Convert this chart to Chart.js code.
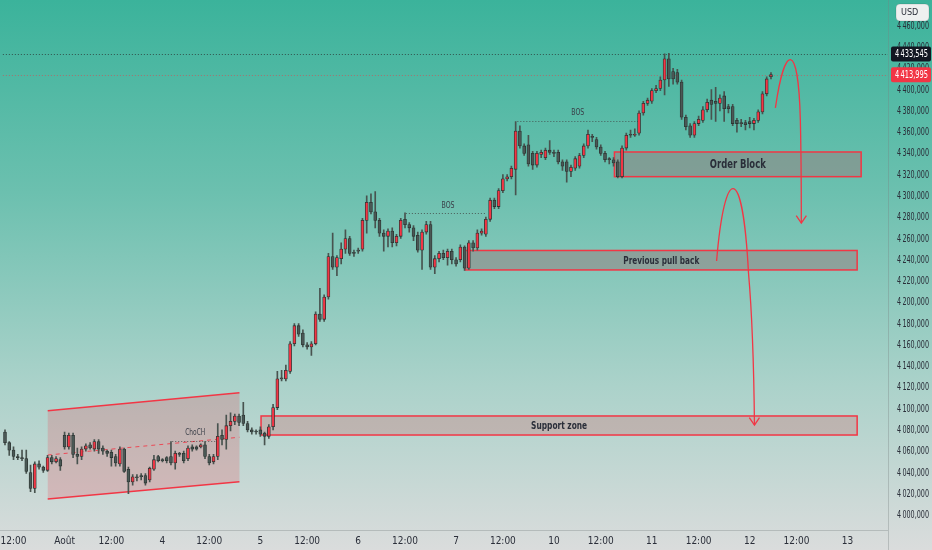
<!DOCTYPE html>
<html><head><meta charset="utf-8">
<script src="https://cdn.jsdelivr.net/npm/chart.js@4.4.1/dist/chart.umd.min.js"></script>
<style>html,body{margin:0;padding:0;overflow:hidden;background:#dcdddd}#wrap{width:932px;height:550px;position:relative}</style>
</head><body>
<div id="wrap"><canvas id="c"></canvas></div>
<script>
// ---- DATA ----
const openP = [4078,4068,4061,4055,4054,4053,4040,4025,4048,4045,
4042,4054,4050,4052,4075,4064,4075,4057,4055,4062,
4066,4062,4069,4063,4060,4059,4055,4048,4062,4043,
4031,4036,4037,4037,4033,4043,4055,4052,4054,4055,
4049,4058,4058,4053,4064,4064,4064,4066,4055,4050,
4055,4075,4071,4084,4088,4093,4094,4086,4080,4079,
4080,4077,4074,4083,4101,4129,4128,4135,4161,4178,
4171,4160,4158,4161,4189,4184,4205,4243,4233,4241,
4250,4260,4247,4249,4250,4277,4294,4285,4277,4265,
4262,4267,4256,4262,4278,4273,4270,4263,4249,4266,
4273,4233,4241,4246,4242,4248,4240,4240,4252,4232,
4256,4251,4265,4264,4278,4296,4290,4305,4316,4318,
4325,4361,4347,4348,4340,4329,4339,4336,4343,4341,
4341,4332,4332,4323,4326,4328,4338,4347,4356,4353,
4346,4340,4335,4334,4332,4318,4345,4358,4357,4359,
4378,4387,4389,4399,4401,4409,4429,4417,4416,4407,
4374,4366,4357,4368,4371,4381,4390,4389,4387,4394,
4384,4384,4371,4369,4369,4370,4368,4371,4379,4396,
4412];
const closeP = [4068,4061,4055,4054,4053,4041,4025,4048,4045,4042,
4054,4050,4053,4046,4064,4075,4057,4055,4062,4065,
4063,4069,4062,4060,4058,4054,4049,4062,4041,4031,
4036,4035,4036,4030,4044,4052,4051,4051,4051,4049,
4058,4057,4051,4063,4062,4062,4066,4055,4049,4055,
4074,4071,4084,4088,4093,4087,4086,4080,4078,4078,
4076,4074,4083,4101,4128,4128,4136,4161,4178,4170,
4160,4158,4161,4189,4184,4205,4243,4233,4242,4250,
4260,4246,4246,4248,4277,4294,4285,4277,4265,4262,
4267,4256,4262,4277,4273,4270,4262,4249,4266,4273,
4233,4241,4246,4242,4248,4240,4236,4252,4232,4256,
4251,4265,4267,4278,4296,4290,4305,4316,4318,4326,
4361,4347,4340,4330,4329,4340,4341,4343,4341,4340,
4332,4328,4323,4327,4335,4338,4347,4358,4355,4346,
4340,4334,4334,4331,4318,4345,4357,4357,4358,4378,
4387,4390,4399,4401,4409,4429,4410,4410,4407,4374,
4365,4357,4368,4372,4381,4388,4386,4387,4392,4382,
4382,4368,4368,4368,4367,4368,4371,4379,4396,4410,
4414];
const highP = [4080,4069,4064,4057,4061,4061,4047,4050,4051,4046,
4056,4056,4055,4054,4078,4077,4077,4063,4064,4067,
4068,4071,4071,4065,4061,4061,4057,4064,4063,4045,
4038,4038,4039,4039,4045,4056,4056,4053,4055,4069,
4060,4059,4060,4065,4066,4065,4067,4069,4057,4057,
4086,4080,4094,4096,4095,4095,4106,4088,4082,4080,
4083,4078,4085,4104,4135,4136,4141,4163,4180,4180,
4174,4162,4163,4191,4213,4207,4246,4265,4244,4256,
4268,4262,4249,4251,4279,4300,4302,4304,4279,4268,
4269,4270,4264,4279,4284,4275,4272,4266,4268,4276,
4276,4244,4248,4249,4250,4250,4242,4254,4253,4258,
4258,4268,4269,4280,4298,4298,4307,4320,4320,4328,
4370,4366,4349,4357,4342,4342,4343,4345,4352,4343,
4343,4334,4334,4329,4337,4340,4349,4362,4358,4355,
4348,4342,4336,4336,4334,4347,4359,4362,4363,4380,
4389,4392,4401,4404,4412,4433.5,4434,4420,4419,4409,
4376,4368,4370,4375,4384,4391,4400,4402,4395,4398,
4386,4386,4373,4372,4371,4374,4373,4381,4398,4412,
4416];
const lowP = [4066,4056,4052,4052,4051,4039,4022,4021,4043,4040,
4041,4048,4049,4042,4062,4062,4054,4048,4052,4060,
4062,4060,4058,4057,4055,4046,4046,4046,4040,4020,
4028,4032,4033,4028,4031,4042,4050,4050,4049,4047,
4043,4055,4049,4051,4060,4061,4063,4053,4047,4048,
4052,4066,4062,4079,4085,4084,4084,4078,4076,4076,
4074,4066,4072,4080,4099,4126,4126,4133,4159,4168,
4158,4156,4150,4160,4182,4182,4203,4231,4225,4236,
4246,4244,4243,4246,4248,4265,4283,4270,4262,4248,
4252,4252,4253,4260,4270,4266,4258,4247,4231,4264,
4231,4227,4238,4240,4235,4236,4234,4238,4230,4231,
4248,4249,4263,4262,4276,4288,4288,4303,4314,4316,
4301,4345,4338,4328,4325,4327,4336,4334,4339,4337,
4330,4324,4313,4318,4324,4326,4336,4345,4351,4344,
4338,4332,4330,4328,4317,4317,4343,4355,4356,4357,
4376,4385,4387,4397,4399,4395,4403,4405,4405,4372,
4362,4355,4355,4366,4369,4379,4372,4370,4380,4370,
4378,4366,4360,4365,4362,4364,4362,4369,4377,4394,
4410];
const slotCount = 208;
const tickIdx  = [2,14,25,37,48,60,71,83,94,106,117,129,140,152,163,175,186,198];
const tickText = ['12:00','Août','12:00','4','12:00','5','12:00','6','12:00','7','12:00','10','12:00','11','12:00','12','12:00','13'];
const yTickValues = [4000,4020,4040,4060,4080,4100,4120,4140,4160,4180,4200,4220,4240,4260,4280,4300,4320,4340,4360,4380,4400,4420,4440,4460];
const lastPrice = 4413.995;
const highPrice = 4433.545;
const yMin = 3985.9, yMax = 4484.2;

// zones
const zoneNames = ['Support zone','Previous pull back','Order Block'];
const zoneI0 = [60.17,108.19,143.21];
const zoneI1 = [200.25,200.25,201.19];
const zoneLo = [4075.2,4230.4,4318.1];
const zoneHi = [4093.1,4248.7,4341.3];
// channel
const chanI = [10.04,55.09];
const chanTop = [4098.1,4115.0];
const chanBot = [4015.0,4031.3];
const chanMid = [4056.4,4073.1];
// structure lines
const structNames = ['ChoCH','BOS','BOS'];
const structI0 = [39.3,94.2,120.4];
const structI1 = [49.4,113.1,148.8];
const structP = [4069.6,4283.9,4370.4];
const structTextI = [44.7,104.1,134.6];
const structTextP = [4077.1,4290.8,4378.2];
// projection arrows, [index, price]
const arrow1 = [[181.04,4382.7],[183.15,4441.9],[186.43,4448.5],[186.9,4371.4],[187.13,4333.8],[187.13,4274.5]];
const arrow2 = [[167.22,4238.8],[169.1,4329.1],[173.31,4333.8],[174.72,4227.5],[175.89,4173.9],[176.12,4084.6]];

// ---- CHART ----
const labels = Array.from({length:slotCount},(_,i)=>{const k=tickIdx.indexOf(i);return k>=0?tickText[k]:'';});
function fmt(v){const s=v.toFixed(3);const parts=s.split('.');const ip=parts[0];return ip.slice(0,ip.length-3)+'\u2009'+ip.slice(-3)+','+parts[1];}
const NARROW = "'Liberation Sans Narrow','DejaVu Sans Condensed','Roboto Condensed','Liberation Sans',sans-serif";
const RED = '#f23645';
const bodies = openP.map((o,i)=>{const c=closeP[i]; if(Math.abs(o-c)<0.8){return [o-0.45,o+0.45];} return [o,c];});
const wicks = lowP.map((l,i)=>[l,highP[i]]);
const bodyColors = openP.map((o,i)=> closeP[i]>=o ? RED : '#4a5855');

const bgPlugin = {id:'bg', beforeDraw(chart){const {ctx,width,height}=chart;const g=ctx.createLinearGradient(0,0,0,height);
g.addColorStop(0,'#3bb39b');g.addColorStop(0.35,'#6cc0af');g.addColorStop(0.7,'#abd2ca');g.addColorStop(1,'#dadcdc');
ctx.save();ctx.fillStyle=g;ctx.fillRect(0,0,width,height);ctx.restore();}};

function py(chart,p){return chart.scales.y.getPixelForValue(p);}
function fx(chart,i){const s=chart.scales.x;const a=s.getPixelForValue(0),b=s.getPixelForValue(1);return a+(b-a)*i;}

const underlay = {id:'under', beforeDatasetsDraw(chart){const ctx=chart.ctx;const ca=chart.chartArea;ctx.save();
  ctx.lineWidth=1;ctx.setLineDash([1,2]);
  ctx.strokeStyle='rgba(40,40,40,0.7)';let y=Math.round(py(chart,highPrice))+0.5;ctx.beginPath();ctx.moveTo(ca.left,y);ctx.lineTo(ca.right,y);ctx.stroke();
  ctx.strokeStyle='rgba(242,54,69,0.55)';y=Math.round(py(chart,lastPrice))+0.5;ctx.beginPath();ctx.moveTo(ca.left,y);ctx.lineTo(ca.right,y);ctx.stroke();
  ctx.setLineDash([]);
  const x0=fx(chart,chanI[0]),x1=fx(chart,chanI[1]);
  ctx.fillStyle='rgba(242,54,69,0.2)';ctx.beginPath();ctx.moveTo(x0,py(chart,chanTop[0]));ctx.lineTo(x1,py(chart,chanTop[1]));ctx.lineTo(x1,py(chart,chanBot[1]));ctx.lineTo(x0,py(chart,chanBot[0]));ctx.closePath();ctx.fill();
  ctx.strokeStyle=RED;ctx.lineWidth=1.5;
  ctx.beginPath();ctx.moveTo(x0,py(chart,chanTop[0]));ctx.lineTo(x1,py(chart,chanTop[1]));ctx.stroke();
  ctx.beginPath();ctx.moveTo(x0,py(chart,chanBot[0]));ctx.lineTo(x1,py(chart,chanBot[1]));ctx.stroke();
  ctx.lineWidth=1;ctx.setLineDash([4,4]);ctx.strokeStyle='rgba(242,54,69,0.85)';
  ctx.beginPath();ctx.moveTo(x0,py(chart,chanMid[0]));ctx.lineTo(x1,py(chart,chanMid[1]));ctx.stroke();ctx.setLineDash([]);
  zoneNames.forEach((n,k)=>{const a=fx(chart,zoneI0[k]),b=fx(chart,zoneI1[k]);const t=py(chart,zoneHi[k]),bt=py(chart,zoneLo[k]);
    ctx.fillStyle = k===0 ? 'rgba(200,130,130,0.38)' : 'rgba(150,132,132,0.55)';
    ctx.fillRect(a,t,b-a,bt-t);ctx.strokeStyle=RED;ctx.lineWidth=1.5;ctx.strokeRect(a,t,b-a,bt-t);});
  ctx.strokeStyle='rgba(60,60,60,0.75)';ctx.lineWidth=1;ctx.setLineDash([1,2]);
  structNames.forEach((n,k)=>{const yy=Math.round(py(chart,structP[k]))+0.5;ctx.beginPath();ctx.moveTo(fx(chart,structI0[k]),yy);ctx.lineTo(fx(chart,structI1[k]),yy);ctx.stroke();});
  ctx.setLineDash([]);ctx.restore();}};

function drawArrow(chart,pts){const ctx=chart.ctx;const P=pts.map(p=>[fx(chart,p[0]),py(chart,p[1])]);
  ctx.beginPath();ctx.moveTo(P[0][0],P[0][1]);ctx.bezierCurveTo(P[1][0],P[1][1],P[2][0],P[2][1],P[3][0],P[3][1]);
  ctx.quadraticCurveTo(P[4][0],P[4][1],P[5][0],P[5][1]);ctx.stroke();
  const tip=P[5],fr=P[4];const ang=Math.atan2(tip[1]-fr[1],tip[0]-fr[0]);const L=9;
  ctx.beginPath();ctx.moveTo(tip[0]-L*Math.cos(ang-0.6),tip[1]-L*Math.sin(ang-0.6));ctx.lineTo(tip[0],tip[1]);
  ctx.lineTo(tip[0]-L*Math.cos(ang+0.6),tip[1]-L*Math.sin(ang+0.6));ctx.stroke();}

const overlay = {id:'over', afterDatasetsDraw(chart){const ctx=chart.ctx;ctx.save();
  ctx.textAlign='center';ctx.textBaseline='middle';ctx.fillStyle='#2a2e39';
  const zf=['bold 11px ','bold 11px ','bold 13px '];const zw=[56,76,56];
  zoneNames.forEach((n,k)=>{ctx.font=zf[k]+NARROW;const cx=(fx(chart,zoneI0[k])+fx(chart,zoneI1[k]))/2;const cy=(py(chart,zoneHi[k])+py(chart,zoneLo[k]))/2;ctx.fillText(n,cx,cy+0.5,zw[k]);});
  ctx.fillStyle='#3a3e48';
  structNames.forEach((n,k)=>{ctx.font=(k===0?'9px ':'8px ')+NARROW;ctx.fillText(n,fx(chart,structTextI[k]),py(chart,structTextP[k]),k===0?20:13);});
  ctx.strokeStyle=RED;ctx.lineWidth=1.3;drawArrow(chart,arrow1);drawArrow(chart,arrow2);
  ctx.restore();},
  afterDraw(chart){const ctx=chart.ctx;const ca=chart.chartArea;ctx.save();
  ctx.strokeStyle='rgba(120,130,130,0.35)';ctx.lineWidth=1;
  ctx.beginPath();ctx.moveTo(ca.right+0.5,0);ctx.lineTo(ca.right+0.5,chart.height);ctx.stroke();
  ctx.beginPath();ctx.moveTo(0,ca.bottom+0.5);ctx.lineTo(ca.right,ca.bottom+0.5);ctx.stroke();
  // y tick labels
  ctx.font='10px '+NARROW;ctx.textBaseline='middle';ctx.textAlign='left';ctx.fillStyle='#2a2e39';
  yTickValues.forEach(v=>{ctx.fillText(fmt(v),ca.right+9,py(chart,v)+0.5,32);});
  // price labels
  const labs=[[highPrice,'#131722'],[lastPrice,RED]];
  labs.forEach(([v,col])=>{const y=py(chart,v);ctx.fillStyle=col;ctx.beginPath();ctx.roundRect(ca.right+3,y-7.5,40,15,2);ctx.fill();ctx.fillStyle='#fff';ctx.fillText(fmt(v),ca.right+7,y+0.5,33);});
  // USD box
  ctx.fillStyle='#eef0f0';ctx.strokeStyle='rgba(0,0,0,0.12)';ctx.beginPath();ctx.roundRect(ca.right+8,4,33,17,4);ctx.fill();ctx.stroke();
  ctx.fillStyle='#2a2e39';ctx.font='9px '+NARROW;ctx.textAlign='left';ctx.fillText('USD',ca.right+13,12.5);
  ctx.restore();}};

new Chart(document.getElementById('c'),{
  type:'bar',
  data:{labels,datasets:[
    {data:bodies,backgroundColor:bodyColors,borderColor:'#2c3432',borderWidth:0.8,borderSkipped:false,barThickness:3,grouped:false,order:1},
    {data:wicks,backgroundColor:'#48534f',borderWidth:0,barThickness:1,grouped:false,order:2}
  ]},
  options:{responsive:true,maintainAspectRatio:false,animation:false,devicePixelRatio:1,
    layout:{padding:0},
    plugins:{legend:{display:false},tooltip:{enabled:false}},
    scales:{
      x:{type:'category',grid:{display:false,drawTicks:false},border:{display:false},
         ticks:{autoSkip:false,maxRotation:0,minRotation:0,padding:5,color:'#2a2e39',font:{size:10,family:NARROW},callback:(v,i)=>labels[i]},
         afterFit:s=>{s.height=20;}},
      y:{type:'linear',position:'right',min:yMin,max:yMax,grid:{display:false,drawTicks:false},border:{display:false},
         ticks:{display:false},
         afterFit:s=>{s.width=44;}}
    }
  },
  plugins:[bgPlugin,underlay,overlay]
});
</script>
</body></html>
